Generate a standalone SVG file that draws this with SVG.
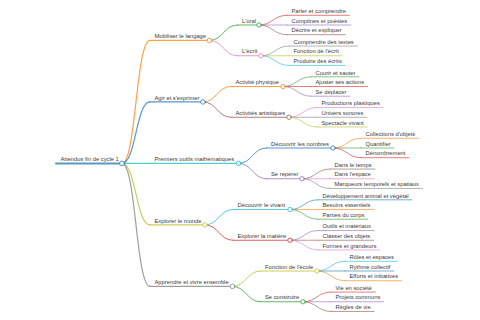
<svg xmlns="http://www.w3.org/2000/svg" width="480" height="320" viewBox="0 0 480 320">
<style>
path,circle{fill:none;stroke-linecap:round}
path{stroke-opacity:0.75}
circle{fill:#fff;stroke-width:0.9;stroke-opacity:0.85}
text{font-family:"Liberation Sans",Arial,sans-serif;font-size:5.8px;fill:#3a3a3a}
.w0{stroke-width:2}
.w1{stroke-width:1.2}
.w2{stroke-width:1}
.w3{stroke-width:0.8}
.cb{stroke:#1f77b4}
.co{stroke:#ff7f0e}
.cg{stroke:#2ca02c}
.cr{stroke:#d62728}
.cp{stroke:#9467bd}
.cn{stroke:#8c564b}
.ck{stroke:#e377c2}
.cy{stroke:#7f7f7f}
.cl{stroke:#bcbd22}
.cc{stroke:#17becf}
</style>
<rect width="480" height="320" fill="#fff"/>
<g id="connectors">
<path class="w1 co" d="M122 163.4C136 163.4 136 40.4 150 40.4"/>
<path class="w1 cb" d="M122 163.4C136 163.4 136 101.9 150 101.9"/>
<path class="w1 cc" d="M122 163.4C136 163.4 136 163.4 150 163.4"/>
<path class="w1 cl" d="M122 163.4C136 163.4 136 224.9 150 224.9"/>
<path class="w1 cy" d="M122 163.4C136 163.4 136 286.4 150 286.4"/>
<path class="w2 cg" d="M209.5 40.4C223.5 40.4 223.5 25 237.5 25"/>
<path class="w2 ck" d="M209.5 40.4C223.5 40.4 223.5 55.75 237.5 55.75"/>
<path class="w2 co" d="M203 101.9C217 101.9 217 86.5 231 86.5"/>
<path class="w2 cn" d="M203 101.9C217 101.9 217 117.25 231 117.25"/>
<path class="w2 cb" d="M238.5 163.4C252.5 163.4 252.5 148 266.5 148"/>
<path class="w2 cp" d="M238.5 163.4C252.5 163.4 252.5 178.75 266.5 178.75"/>
<path class="w2 cc" d="M205 224.9C219 224.9 219 209.5 233 209.5"/>
<path class="w2 cr" d="M205 224.9C219 224.9 219 240.25 233 240.25"/>
<path class="w2 cl" d="M232.5 286.4C246.5 286.4 246.5 271 260.5 271"/>
<path class="w2 cg" d="M232.5 286.4C246.5 286.4 246.5 301.75 260.5 301.75"/>
<path class="w3 cr" d="M259 25C273 25 273 15.3 287 15.3"/>
<path class="w3 cp" d="M259 25C273 25 273 25 287 25"/>
<path class="w3 cn" d="M259 25C273 25 273 34.7 287 34.7"/>
<path class="w3 cy" d="M261 55.75C275 55.75 275 46.05 289 46.05"/>
<path class="w3 cl" d="M261 55.75C275 55.75 275 55.75 289 55.75"/>
<path class="w3 cc" d="M261 55.75C275 55.75 275 65.45 289 65.45"/>
<path class="w3 cg" d="M283 86.5C297 86.5 297 76.8 311 76.8"/>
<path class="w3 cr" d="M283 86.5C297 86.5 297 86.5 311 86.5"/>
<path class="w3 cp" d="M283 86.5C297 86.5 297 96.2 311 96.2"/>
<path class="w3 ck" d="M289 117.25C303 117.25 303 107.55 317 107.55"/>
<path class="w3 cy" d="M289 117.25C303 117.25 303 117.25 317 117.25"/>
<path class="w3 cl" d="M289 117.25C303 117.25 303 126.95 317 126.95"/>
<path class="w3 co" d="M333 148C347 148 347 138.3 361 138.3"/>
<path class="w3 cg" d="M333 148C347 148 347 148 361 148"/>
<path class="w3 cr" d="M333 148C347 148 347 157.7 361 157.7"/>
<path class="w3 cn" d="M302 178.75C316 178.75 316 169.05 330 169.05"/>
<path class="w3 ck" d="M302 178.75C316 178.75 316 178.75 330 178.75"/>
<path class="w3 cy" d="M302 178.75C316 178.75 316 188.45 330 188.45"/>
<path class="w3 cb" d="M290 209.5C304 209.5 304 199.8 318 199.8"/>
<path class="w3 co" d="M290 209.5C304 209.5 304 209.5 318 209.5"/>
<path class="w3 cg" d="M290 209.5C304 209.5 304 219.2 318 219.2"/>
<path class="w3 cp" d="M290 240.25C304 240.25 304 230.55 318 230.55"/>
<path class="w3 cn" d="M290 240.25C304 240.25 304 240.25 318 240.25"/>
<path class="w3 ck" d="M290 240.25C304 240.25 304 249.95 318 249.95"/>
<path class="w3 cc" d="M317 271C331 271 331 261.3 345 261.3"/>
<path class="w3 cb" d="M317 271C331 271 331 271 345 271"/>
<path class="w3 co" d="M317 271C331 271 331 280.7 345 280.7"/>
<path class="w3 cr" d="M303 301.75C317 301.75 317 292.05 331 292.05"/>
<path class="w3 cp" d="M303 301.75C317 301.75 317 301.75 331 301.75"/>
<path class="w3 cn" d="M303 301.75C317 301.75 317 311.45 331 311.45"/>
</g>
<g id="root"><path class="w0 cb" d="M56 163.4H122"/><circle class="cb" cx="122" cy="163.4" r="2.4"/><text x="60.5" y="161.1">Attendus fin de cycle 1</text></g>
<g id="mobiliser"><path class="w1 co" d="M150 40.4H209.5"/><circle class="co" cx="209.5" cy="40.4" r="2.3"/><text x="154.5" y="38.1">Mobiliser le langage</text></g>
<g id="agir"><path class="w1 cb" d="M150 101.9H203"/><circle class="cb" cx="203" cy="101.9" r="2.3"/><text x="154.5" y="99.6">Agir et s'exprimer</text></g>
<g id="premiers"><path class="w1 cc" d="M150 163.4H238.5"/><circle class="cc" cx="238.5" cy="163.4" r="2.3"/><text x="154.5" y="161.1">Premiers outils mathématiques</text></g>
<g id="explorer-monde"><path class="w1 cl" d="M150 224.9H205"/><circle class="cl" cx="205" cy="224.9" r="2.3"/><text x="154.5" y="222.6">Explorer le monde</text></g>
<g id="apprendre"><path class="w1 cy" d="M150 286.4H232.5"/><circle class="cy" cx="232.5" cy="286.4" r="2.3"/><text x="154.5" y="284.1">Apprendre et vivre ensemble</text></g>
<g id="oral"><path class="w2 cg" d="M237.5 25H259"/><circle class="cg" cx="259" cy="25" r="2.2"/><text x="242" y="22.7">L'oral</text></g>
<g id="ecrit"><path class="w2 ck" d="M237.5 55.75H261"/><circle class="ck" cx="261" cy="55.75" r="2.2"/><text x="242" y="53.45">L'écrit</text></g>
<g id="physique"><path class="w2 co" d="M231 86.5H283"/><circle class="co" cx="283" cy="86.5" r="2.2"/><text x="235.5" y="84.2">Activité physique</text></g>
<g id="artistiques"><path class="w2 cn" d="M231 117.25H289"/><circle class="cn" cx="289" cy="117.25" r="2.2"/><text x="235.5" y="114.95">Activités artistiques</text></g>
<g id="nombres"><path class="w2 cb" d="M266.5 148H333"/><circle class="cb" cx="333" cy="148" r="2.2"/><text x="271" y="145.7">Découvrir les nombres</text></g>
<g id="reperer"><path class="w2 cp" d="M266.5 178.75H302"/><circle class="cp" cx="302" cy="178.75" r="2.2"/><text x="271" y="176.45">Se repérer</text></g>
<g id="vivant"><path class="w2 cc" d="M233 209.5H290"/><circle class="cc" cx="290" cy="209.5" r="2.2"/><text x="237.5" y="207.2">Découvrir le vivant</text></g>
<g id="matiere"><path class="w2 cr" d="M233 240.25H290"/><circle class="cr" cx="290" cy="240.25" r="2.2"/><text x="237.5" y="237.95">Explorer la matière</text></g>
<g id="ecole"><path class="w2 cl" d="M260.5 271H317"/><circle class="cl" cx="317" cy="271" r="2.2"/><text x="265" y="268.7">Fonction de l'école</text></g>
<g id="construire"><path class="w2 cg" d="M260.5 301.75H303"/><circle class="cg" cx="303" cy="301.75" r="2.2"/><text x="265" y="299.45">Se construire</text></g>
<g id="leaf-parler"><path class="w3 cr" d="M287 15.3H349.5"/><text x="291.5" y="13">Parler et comprendre</text></g>
<g id="leaf-comptines"><path class="w3 cp" d="M287 25H350.8"/><text x="291.5" y="22.7">Comptines et poésies</text></g>
<g id="leaf-decrire"><path class="w3 cn" d="M287 34.7H345.3"/><text x="291.5" y="32.4">Décrire et expliquer</text></g>
<g id="leaf-comprendre"><path class="w3 cy" d="M289 46.05H357.3"/><text x="293.5" y="43.75">Comprendre des textes</text></g>
<g id="leaf-fonction-ecrit"><path class="w3 cl" d="M289 55.75H342.3"/><text x="293.5" y="53.45">Fonction de l'écrit</text></g>
<g id="leaf-produire"><path class="w3 cc" d="M289 65.45H345.3"/><text x="293.5" y="63.15">Produire des écrits</text></g>
<g id="leaf-courir"><path class="w3 cg" d="M311 76.8H359"/><text x="315.5" y="74.5">Courir et sauter</text></g>
<g id="leaf-ajuster"><path class="w3 cr" d="M311 86.5H367.7"/><text x="315.5" y="84.2">Ajuster ses actions</text></g>
<g id="leaf-deplacer"><path class="w3 cp" d="M311 96.2H349.9"/><text x="315.5" y="93.9">Se déplacer</text></g>
<g id="leaf-plastiques"><path class="w3 ck" d="M317 107.55H383.3"/><text x="321.5" y="105.25">Productions plastiques</text></g>
<g id="leaf-sonores"><path class="w3 cy" d="M317 117.25H366.9"/><text x="321.5" y="114.95">Univers sonores</text></g>
<g id="leaf-spectacle"><path class="w3 cl" d="M317 126.95H367.2"/><text x="321.5" y="124.65">Spectacle vivant</text></g>
<g id="leaf-collections"><path class="w3 co" d="M361 138.3H418.8"/><text x="365.5" y="136">Collections d'objets</text></g>
<g id="leaf-quantifier"><path class="w3 cg" d="M361 148H394.1"/><text x="365.5" y="145.7">Quantifier</text></g>
<g id="leaf-denombrement"><path class="w3 cr" d="M361 157.7H409"/><text x="365.5" y="155.4">Dénombrement</text></g>
<g id="leaf-temps"><path class="w3 cn" d="M330 169.05H375.1"/><text x="334.5" y="166.75">Dans le temps</text></g>
<g id="leaf-espace"><path class="w3 ck" d="M330 178.75H374.2"/><text x="334.5" y="176.45">Dans l'espace</text></g>
<g id="leaf-marqueurs"><path class="w3 cy" d="M330 188.45H422.5"/><text x="334.5" y="186.15">Marqueurs temporels et spatiaux</text></g>
<g id="leaf-developpement"><path class="w3 cb" d="M318 199.8H412.1"/><text x="322.5" y="197.5">Développement animal et végétal</text></g>
<g id="leaf-besoins"><path class="w3 co" d="M318 209.5H374"/><text x="322.5" y="207.2">Besoins essentiels</text></g>
<g id="leaf-parties"><path class="w3 cg" d="M318 219.2H367.9"/><text x="322.5" y="216.9">Parties du corps</text></g>
<g id="leaf-outils"><path class="w3 cp" d="M318 230.55H374.3"/><text x="322.5" y="228.25">Outils et matériaux</text></g>
<g id="leaf-classer"><path class="w3 cn" d="M318 240.25H373.7"/><text x="322.5" y="237.95">Classer des objets</text></g>
<g id="leaf-formes"><path class="w3 ck" d="M318 249.95H379.8"/><text x="322.5" y="247.65">Formes et grandeurs</text></g>
<g id="leaf-roles"><path class="w3 cc" d="M345 261.3H397.5"/><text x="349.5" y="259">Rôles et espaces</text></g>
<g id="leaf-rythme"><path class="w3 cb" d="M345 271H393.9"/><text x="349.5" y="268.7">Rythme collectif</text></g>
<g id="leaf-efforts"><path class="w3 co" d="M345 280.7H401.7"/><text x="349.5" y="278.4">Efforts et initiatives</text></g>
<g id="leaf-societe"><path class="w3 cr" d="M331 292.05H375.4"/><text x="335.5" y="289.75">Vie en société</text></g>
<g id="leaf-projets"><path class="w3 cp" d="M331 301.75H383.8"/><text x="335.5" y="299.45">Projets communs</text></g>
<g id="leaf-regles"><path class="w3 cn" d="M331 311.45H374.1"/><text x="335.5" y="309.15">Règles de vie</text></g>
</svg>
